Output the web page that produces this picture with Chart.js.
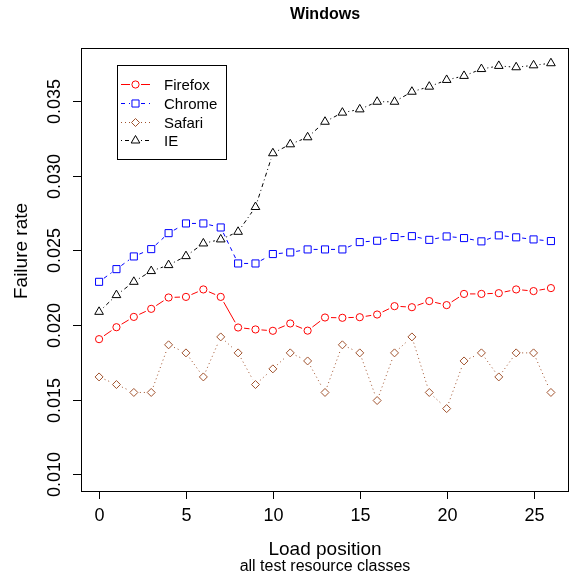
<!doctype html>
<html lang="en">
<head>
<meta charset="utf-8">
<title>Windows</title>
<script src="https://cdn.jsdelivr.net/npm/chart.js@4.4.1/dist/chart.umd.min.js"></script>
<style>
  body { margin: 0; background: #fff; }
  canvas { display: block; }
</style>
</head>
<body>
<canvas id="chart" width="575" height="576"></canvas>
<script>
// load positions 0..26
var positions = [0, 1, 2, 3, 4, 5, 6, 7, 8, 9, 10, 11, 12, 13, 14, 15, 16, 17, 18, 19, 20, 21, 22, 23, 24, 25, 26];

var firefox = [0.01905, 0.01985, 0.02054, 0.02108, 0.02184, 0.02188, 0.02238, 0.02188, 0.01983, 0.01970,
               0.01961, 0.02010, 0.01962, 0.02050, 0.02048, 0.02052, 0.02070, 0.02126, 0.02119, 0.02160,
               0.02133, 0.02208, 0.02208, 0.02213, 0.02238, 0.02227, 0.02247];
var chrome = [0.02289, 0.02374, 0.02459, 0.02508, 0.02615, 0.02680, 0.02680, 0.02653, 0.02412, 0.02412,
              0.02475, 0.02486, 0.02506, 0.02506, 0.02506, 0.02555, 0.02564, 0.02589, 0.02595, 0.02570,
              0.02593, 0.02582, 0.02560, 0.02600, 0.02587, 0.02573, 0.02562];
var safari = [0.01652, 0.01601, 0.01548, 0.01548, 0.01867, 0.01813, 0.01652, 0.01920, 0.01813, 0.01601,
              0.01706, 0.01813, 0.01759, 0.01548, 0.01867, 0.01813, 0.01494, 0.01813, 0.01920, 0.01548,
              0.01440, 0.01759, 0.01813, 0.01652, 0.01813, 0.01813, 0.01548];
var ie = [0.02088, 0.02200, 0.02289, 0.02361, 0.02401, 0.02461, 0.02546, 0.02573, 0.02624, 0.02790,
          0.03150, 0.03210, 0.03257, 0.03361, 0.03422, 0.03444, 0.03495, 0.03495, 0.03562, 0.03596,
          0.03641, 0.03668, 0.03714, 0.03735, 0.03726, 0.03739, 0.03753];

var xTicks = [0, 5, 10, 15, 20, 25];
var yTicks = [0.010, 0.015, 0.020, 0.025, 0.030, 0.035];
var yTickLabels = ['0.010', '0.015', '0.020', '0.025', '0.030', '0.035'];

var FONT = '"Liberation Sans", Arial, Helvetica, sans-serif';
var GAP = 6; // gap around markers, like R type = "b"

function pts(vals) {
  return positions.map(function (p, i) { return { x: p, y: vals[i] }; });
}

function series(label, vals, color, dash, style, radius) {
  return {
    label: label,
    data: pts(vals),
    showLine: false,
    borderColor: color,
    borderWidth: 1,
    borderDash: dash,
    pointStyle: style,
    pointRadius: radius,
    pointBorderColor: color,
    pointBackgroundColor: 'rgba(0,0,0,0)',
    pointBorderWidth: 1
  };
}

// connecting segments with gaps at each point
var gappedLines = {
  id: 'gappedLines',
  beforeDatasetsDraw: function (chart) {
    var ctx = chart.ctx;
    ctx.save();
    chart.data.datasets.forEach(function (ds, di) {
      var els = chart.getDatasetMeta(di).data;
      ctx.strokeStyle = ds.borderColor;
      ctx.lineWidth = 1;
      for (var i = 0; i < els.length - 1; i++) {
        var p = els[i], q = els[i + 1];
        var dx = q.x - p.x, dy = q.y - p.y;
        var len = Math.sqrt(dx * dx + dy * dy);
        if (len <= 2 * GAP) continue;
        var ux = dx / len, uy = dy / len;
        ctx.setLineDash(ds.borderDash);
        ctx.beginPath();
        ctx.moveTo(p.x + ux * GAP, p.y + uy * GAP);
        ctx.lineTo(q.x - ux * GAP, q.y - uy * GAP);
        ctx.stroke();
      }
    });
    ctx.restore();
  }
};

// R-like frame, ticks, labels and legend
var basePlot = {
  id: 'basePlot',
  afterDraw: function (chart) {
    var ctx = chart.ctx, a = chart.chartArea;
    var xs = chart.scales.x, ys = chart.scales.y;
    ctx.save();
    ctx.setLineDash([]);
    ctx.strokeStyle = '#000';
    ctx.lineWidth = 1;
    ctx.strokeRect(a.left + 0.5, a.top + 0.5, a.right - a.left - 1, a.bottom - a.top);

    ctx.fillStyle = '#000';
    ctx.font = '18px ' + FONT;
    ctx.textAlign = 'center';
    ctx.textBaseline = 'middle';
    xTicks.forEach(function (t) {
      var px = Math.round(xs.getPixelForValue(t)) + 0.5;
      ctx.beginPath();
      ctx.moveTo(px, a.bottom);
      ctx.lineTo(px, a.bottom + 8);
      ctx.stroke();
      ctx.fillText(String(t), px, a.bottom + 25);
    });
    yTicks.forEach(function (t, i) {
      var py = Math.round(ys.getPixelForValue(t)) + 0.5;
      ctx.beginPath();
      ctx.moveTo(a.left, py);
      ctx.lineTo(a.left - 8, py);
      ctx.stroke();
      ctx.save();
      ctx.translate(a.left - 26, py);
      ctx.rotate(-Math.PI / 2);
      ctx.fillText(yTickLabels[i], 0, 0);
      ctx.restore();
    });

    var cx = (a.left + a.right) / 2;
    ctx.font = 'bold 16px ' + FONT;
    ctx.fillText('Windows', cx, 15);
    ctx.font = '19px ' + FONT;
    ctx.fillText('Load position', cx, 550);
    ctx.font = '16px ' + FONT;
    ctx.fillText('all test resource classes', cx, 567);
    ctx.save();
    ctx.font = '19px ' + FONT;
    ctx.translate(22, 251);
    ctx.rotate(-Math.PI / 2);
    ctx.fillText('Failure rate', 0, 0);
    ctx.restore();

    // legend box
    var lx = 117, ly = 65, lw = 109, lh = 94;
    ctx.fillStyle = '#fff';
    ctx.fillRect(lx, ly, lw, lh);
    ctx.strokeRect(lx + 0.5, ly + 0.5, lw, lh);
    chart.data.datasets.forEach(function (ds, i) {
      var y = Math.round(84 + i * 18.8) + 0.5;
      ctx.strokeStyle = ds.borderColor;
      ctx.setLineDash(ds.borderDash || []);
      ctx.beginPath();
      ctx.moveTo(121, y);
      ctx.lineTo(130, y);
      ctx.moveTo(141, y);
      ctx.lineTo(150, y);
      ctx.stroke();
      ctx.setLineDash([]);
      ctx.fillStyle = 'rgba(0,0,0,0)';
      Chart.helpers.drawPoint(ctx, { pointStyle: ds.pointStyle, radius: ds.pointRadius, rotation: 0, borderWidth: 1 }, 135.5, y);
      ctx.fillStyle = '#000';
      ctx.font = '15px ' + FONT;
      ctx.textAlign = 'left';
      ctx.fillText(ds.label, 164, y + 1);
    });
    ctx.restore();
  }
};

new Chart(document.getElementById('chart'), {
  type: 'line',
  data: {
    datasets: [
      series('Firefox', firefox, '#FF0000', [], 'circle', 3.6),
      series('Chrome', chrome, '#0000FF', [4, 4], 'rect', 5),
      series('Safari', safari, '#A0522D', [1, 3], 'rectRot', 4),
      series('IE', ie, '#000000', [1, 3, 4, 3], 'triangle', 5)
    ]
  },
  options: {
    responsive: false,
    animation: false,
    layout: { padding: { left: 81, top: 48, right: 1, bottom: 85 } },
    plugins: { legend: { display: false }, tooltip: { enabled: false } },
    scales: {
      x: { type: 'linear', min: -1.04, max: 27.04, display: false },
      y: { type: 'linear', min: 0.00888, max: 0.03855, display: false }
    }
  },
  plugins: [gappedLines, basePlot]
});
</script>
</body>
</html>
